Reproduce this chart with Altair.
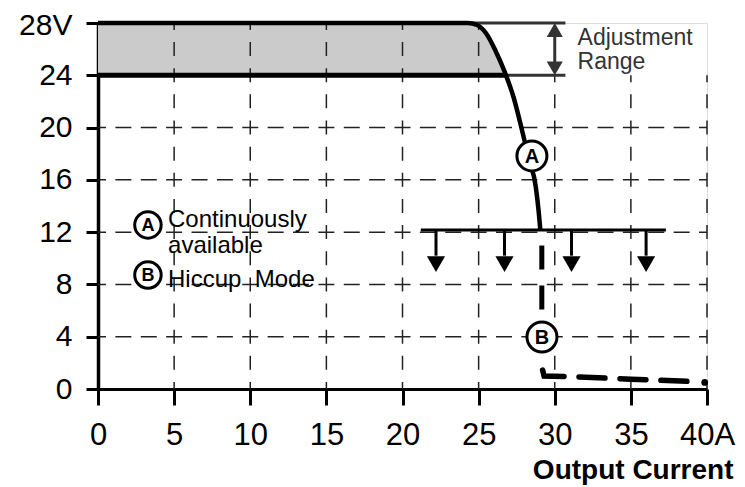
import altair as alt
import pandas as pd

FONT = "Liberation Sans"

# ---- data ----
# solid output characteristic (Output Current in A, Output Voltage in V)
curve_x = [0, 24.3, 24.9, 25.5, 26.1, 26.7, 27.3, 27.85, 28.3, 28.75, 28.95, 29.05]
curve_y = [28, 28, 27.85, 27.2, 25.9, 24.3, 22.3, 19.8, 17.6, 15.5, 13.5, 12.2]

# shaded adjustment band (between 24 V and the curve)
band_x = [0, 24.3, 24.9, 25.5, 26.1, 26.7, 26.8]
band_top = [28, 28, 27.85, 27.2, 25.9, 24.3, 24.0]
band_bottom = 24

# lower band edge
floor_x = [0, 26.8]
floor_y = 24

# hiccup (dashed) part
hiccup_v_x = [29.15, 29.15]
hiccup_v_y = [12.2, 5.3]
hiccup_t_x = [29.2, 29.3, 31.0, 35.0, 39.6]
hiccup_t_y = [1.45, 1.0, 0.95, 0.75, 0.55]
end_dot_x = [39.85]
end_dot_y = [0.5]

# current limit threshold line with down arrows
limit_x = [21.2, 37.3]
limit_y = 12.17
arrow_x = [22.2, 26.7, 31.1, 36.0]
arrow_shaft_bottom = 10.2
arrow_head_y = 9.56

# adjustment range marker
adj_lines_x1 = [24.6, 26.9]
adj_lines_x2 = [30.7, 30.7]
adj_lines_y = [28, 24]
adj_arrow_x = 30.0
adj_text = ["Adjustment", "Range"]
adj_text_x = [31.5, 31.5]
adj_text_y = [26.3, 24.45]

# circled markers
circ_x = [28.5, 29.16]
circ_y = [17.83, 3.98]
circ_lab = ["A", "B"]
leg_circ_x = [3.28, 3.28]
leg_circ_y = [12.55, 8.72]
leg_circ_lab = ["A", "B"]
leg_text = ["Continuously", "available", "Hiccup\u00a0 Mode"]
leg_text_x = [4.6, 4.6, 4.6]
leg_text_y = [12.36, 10.4, 7.8]

# grid
vgrid_x = [5, 10, 15, 20, 25, 30, 35, 40]
vgrid_top = [28, 28, 28, 28, 28, 24, 24, 24]
hgrid_y = [4, 8, 12, 16, 20]

x_ticks = [0, 5, 10, 15, 20, 25, 30, 35, 40]
y_ticks = [0, 4, 8, 12, 16, 20, 24, 28]

# ---- scales ----
xs = alt.Scale(domain=[0, 40], nice=False, zero=False)
ys = alt.Scale(domain=[0, 28], nice=False, zero=False)


def X(f="x", **kw):
    return alt.X(f, type="quantitative", scale=xs, **kw)


def Y(f="y", **kw):
    return alt.Y(f, type="quantitative", scale=ys, **kw)


# base layer carrying the axes
axis_df = pd.DataFrame({"x": [0, 40], "y": [0, 28]})
base = alt.Chart(axis_df).mark_point(opacity=0).encode(
    x=X("x", axis=alt.Axis(
        values=x_ticks, labelExpr="datum.value == 40 ? '40A' : datum.label",
        title="Output Current", titleFont=FONT, titleFontSize=28, titleFontWeight="bold",
        titleColor="black", titleAlign="right", titleBaseline="alphabetic",
        titleX=635, titleY=89, titleAngle=0,
        labelFont=FONT, labelFontSize=31, labelColor="black", labelPadding=15,
        tickSize=16, tickWidth=3, tickColor="black", domainWidth=3, domainColor="black",
        grid=False, labelFlush=False)),
    y=Y("y", axis=alt.Axis(
        values=y_ticks, labelExpr="datum.value == 28 ? '28V' : datum.label",
        labelOffset={"condition": {"test": "datum.value == 28", "value": 2}, "value": 0},
        title=None, labelFont=FONT, labelFontSize=30, labelColor="black", labelPadding=14,
        tickSize=12, tickWidth=3, tickColor="black", domainWidth=3.5, domainColor="black",
        grid=False, labelFlush=False)),
)

band = alt.Chart(pd.DataFrame({"x": band_x, "y": band_top, "y2": [band_bottom] * len(band_x)})).mark_area(
    color="#cbcbcb", opacity=1).encode(x=X(), y=Y(), y2="y2")

vgrid = alt.Chart(pd.DataFrame({"x": vgrid_x, "y": [0] * len(vgrid_x), "y2": vgrid_top})).mark_rule(
    color="#222", strokeWidth=1.5, strokeDash=[14, 12.15], strokeDashOffset=7).encode(
    x=X(), y=Y(), y2="y2")

hgrid = alt.Chart(pd.DataFrame({"y": hgrid_y, "x": [0] * len(hgrid_y), "x2": [40] * len(hgrid_y)})).mark_rule(
    color="#222", strokeWidth=1.5, strokeDash=[16, 9.375], strokeDashOffset=8).encode(
    x=X(), x2="x2", y=Y())

adj_lines = alt.Chart(pd.DataFrame({"x": adj_lines_x1, "x2": adj_lines_x2, "y": adj_lines_y})).mark_rule(
    color="#333", strokeWidth=3).encode(x=X(), x2="x2", y=Y())

floor = alt.Chart(pd.DataFrame({"x": [floor_x[0]], "x2": [floor_x[1]], "y": [floor_y]})).mark_rule(
    color="black", strokeWidth=5).encode(x=X(), x2="x2", y=Y())

curve = alt.Chart(pd.DataFrame({"x": curve_x, "y": curve_y, "o": list(range(len(curve_x)))})).mark_line(
    color="black", strokeWidth=4.5, interpolate="monotone", strokeCap="butt").encode(
    x=X(), y=Y(), order="o:Q")

hiccup_v = alt.Chart(pd.DataFrame({"x": hiccup_v_x, "y": hiccup_v_y, "o": [0, 1]})).mark_line(
    color="black", strokeWidth=5, strokeDash=[24, 16], strokeDashOffset=24).encode(
    x=X(), y=Y(), order="o:Q")

hiccup_t = alt.Chart(pd.DataFrame({"x": hiccup_t_x, "y": hiccup_t_y, "o": list(range(len(hiccup_t_x)))})).mark_line(
    color="black", strokeWidth=5.5, strokeDash=[26, 15], strokeCap="round").encode(
    x=X(), y=Y(), order="o:Q")

end_dot = alt.Chart(pd.DataFrame({"x": end_dot_x, "y": end_dot_y})).mark_point(
    shape="circle", filled=True, color="black", size=45, opacity=1).encode(x=X(), y=Y())

limit = alt.Chart(pd.DataFrame({"x": [limit_x[0]], "x2": [limit_x[1]], "y": [limit_y]})).mark_rule(
    color="black", strokeWidth=3).encode(x=X(), x2="x2", y=Y())

shafts = alt.Chart(pd.DataFrame({"x": arrow_x, "y": [limit_y] * 4, "y2": [arrow_shaft_bottom] * 4})).mark_rule(
    color="black", strokeWidth=3).encode(x=X(), y=Y(), y2="y2")

heads = alt.Chart(pd.DataFrame({"x": arrow_x, "y": [arrow_head_y] * 4})).mark_point(
    shape="triangle-down", filled=True, color="black", size=330, opacity=1).encode(x=X(), y=Y())

adj_shaft = alt.Chart(pd.DataFrame({"x": [adj_arrow_x], "y": [24.9], "y2": [27.1]})).mark_rule(
    color="#333", strokeWidth=3).encode(x=X(), y=Y(), y2="y2")
adj_heads = alt.Chart(pd.DataFrame({"x": [adj_arrow_x, adj_arrow_x], "y": [27.47, 24.53],
                                    "s": ["triangle-up", "triangle-down"]})).mark_point(
    filled=True, color="#333", size=260, opacity=1).encode(
    x=X(), y=Y(), shape=alt.Shape("s:N", scale=None, legend=None))

adj_lbl = alt.Chart(pd.DataFrame({"x": adj_text_x, "y": adj_text_y, "t": adj_text})).mark_text(
    font=FONT, fontSize=23, color="#333", align="left", baseline="alphabetic").encode(
    x=X(), y=Y(), text="t:N")

circ = alt.Chart(pd.DataFrame({"x": circ_x, "y": circ_y, "t": circ_lab})).mark_point(
    shape="circle", filled=True, fill="white", stroke="black", strokeWidth=3, size=900, opacity=1).encode(
    x=X(), y=Y())
circ_t = alt.Chart(pd.DataFrame({"x": circ_x, "y": circ_y, "t": circ_lab})).mark_text(
    font=FONT, fontSize=20, fontWeight="bold", color="black", align="center", baseline="middle", dy=1).encode(
    x=X(), y=Y(), text="t:N")

leg_c = alt.Chart(pd.DataFrame({"x": leg_circ_x, "y": leg_circ_y})).mark_point(
    shape="circle", filled=True, fill="white", stroke="black", strokeWidth=3, size=700, opacity=1).encode(
    x=X(), y=Y())
leg_ct = alt.Chart(pd.DataFrame({"x": leg_circ_x, "y": leg_circ_y, "t": leg_circ_lab})).mark_text(
    font=FONT, fontSize=18, fontWeight="bold", color="black", align="center", baseline="middle", dy=1).encode(
    x=X(), y=Y(), text="t:N")
leg_t = alt.Chart(pd.DataFrame({"x": leg_text_x, "y": leg_text_y, "t": leg_text})).mark_text(
    font=FONT, fontSize=24, color="black", align="left", baseline="alphabetic").encode(
    x=X(), y=Y(), text="t:N")

chart = alt.layer(
    base, band, vgrid, hgrid, adj_lines, floor, curve, hiccup_v, hiccup_t, end_dot,
    limit, shafts, heads, adj_shaft, adj_heads, adj_lbl, circ, circ_t, leg_c, leg_ct, leg_t
).properties(
    width=609, height=366,
    autosize=alt.AutoSizeParams(type="none"),
    padding={"left": 90, "top": 15, "right": 30, "bottom": 98},
).configure_view(stroke=None).configure(background="white")

chart.save("out.html", embed_options={"renderer": "svg", "actions": False})
